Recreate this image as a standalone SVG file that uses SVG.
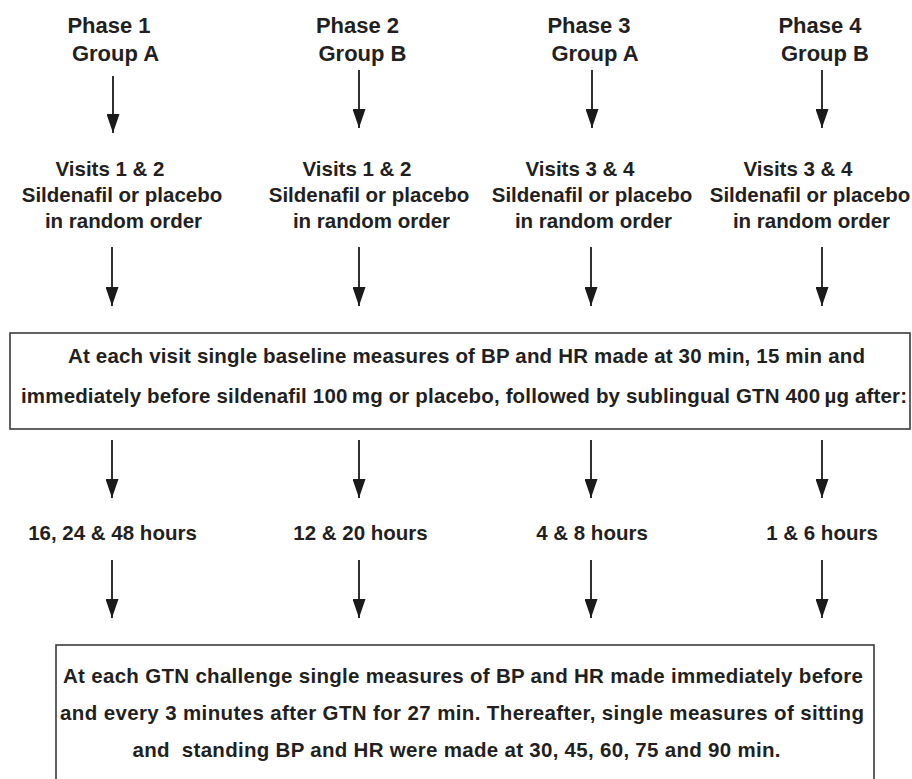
<svg xmlns="http://www.w3.org/2000/svg" width="912" height="779" viewBox="0 0 912 779">
  <defs>
    <marker id="ah" markerUnits="userSpaceOnUse" markerWidth="13" markerHeight="19" refX="6.5" refY="19" orient="0" viewBox="0 0 13 19">
      <path d="M0,0 L13,0 L6.5,19 Z" fill="#1a1a1a"/>
    </marker>
    <style>
      text { font-family: "Liberation Sans", Arial, sans-serif; font-weight: bold; fill: #231f20; }
      .title { font-size: 22px; text-anchor: middle; }
      .lab { font-size: 20.5px; text-anchor: middle; }
      .box { fill: #ffffff; stroke: #3a3a3a; stroke-width: 1.6; }
      .arr { stroke: #1a1a1a; stroke-width: 1.8; fill: none; marker-end: url(#ah); }
    </style>
  </defs>
  <rect width="912" height="779" fill="#ffffff"/>

  <g id="phase1">
    <text class="title" x="109" y="33">Phase 1</text>
    <text class="title" x="115.5" y="61">Group A</text>
  </g>
  <g id="phase2">
    <text class="title" x="357.5" y="33">Phase 2</text>
    <text class="title" x="362.5" y="61">Group B</text>
  </g>
  <g id="phase3">
    <text class="title" x="589" y="33">Phase 3</text>
    <text class="title" x="595" y="61">Group A</text>
  </g>
  <g id="phase4">
    <text class="title" x="820" y="33">Phase 4</text>
    <text class="title" x="825" y="61">Group B</text>
  </g>

  <g id="visits1">
    <text class="lab" x="110" y="176">Visits 1 &amp; 2</text>
    <text class="lab" x="122" y="202">Sildenafil or placebo</text>
    <text class="lab" x="123.5" y="228">in random order</text>
  </g>
  <g id="visits2">
    <text class="lab" x="357" y="176">Visits 1 &amp; 2</text>
    <text class="lab" x="369" y="202">Sildenafil or placebo</text>
    <text class="lab" x="371.5" y="228">in random order</text>
  </g>
  <g id="visits3">
    <text class="lab" x="580" y="176">Visits 3 &amp; 4</text>
    <text class="lab" x="592" y="202">Sildenafil or placebo</text>
    <text class="lab" x="593.5" y="228">in random order</text>
  </g>
  <g id="visits4">
    <text class="lab" x="798" y="176">Visits 3 &amp; 4</text>
    <text class="lab" x="810" y="202">Sildenafil or placebo</text>
    <text class="lab" x="811.5" y="228">in random order</text>
  </g>

  <g id="baseline-box">
    <rect class="box" x="10" y="333" width="900" height="96"/>
    <text class="lab" x="466.5" y="363" textLength="797">At each visit single baseline measures of BP and HR made at 30 min, 15 min and</text>
    <text class="lab" x="464" y="403" textLength="886">immediately before sildenafil 100&#8201;mg or placebo, followed by sublingual GTN 400&#8201;µg after:</text>
  </g>

  <g id="hours1"><text class="lab" x="112.5" y="540">16, 24 &amp; 48 hours</text></g>
  <g id="hours2"><text class="lab" x="360.5" y="540">12 &amp; 20 hours</text></g>
  <g id="hours3"><text class="lab" x="592" y="540">4 &amp; 8 hours</text></g>
  <g id="hours4"><text class="lab" x="822" y="540">1 &amp; 6 hours</text></g>

  <g id="gtn-box">
    <rect class="box" x="56" y="645" width="818" height="150"/>
    <text class="lab" x="463" y="683" textLength="800">At each GTN challenge single measures of BP and HR made immediately before</text>
    <text class="lab" x="462" y="720" textLength="804">and every 3 minutes after GTN for 27 min. Thereafter, single measures of sitting</text>
    <text class="lab" x="456.5" y="757" textLength="648">and&#160; standing BP and HR were made at 30, 45, 60, 75 and 90 min.</text>
  </g>

  <g id="connectors">
    <line class="arr" x1="113" y1="76" x2="113" y2="133"/>
    <line class="arr" x1="359" y1="70" x2="359" y2="128"/>
    <line class="arr" x1="592" y1="70" x2="592" y2="128"/>
    <line class="arr" x1="822" y1="70" x2="822" y2="128"/>

    <line class="arr" x1="112" y1="247" x2="112" y2="306"/>
    <line class="arr" x1="359" y1="247" x2="359" y2="306"/>
    <line class="arr" x1="591" y1="247" x2="591" y2="306"/>
    <line class="arr" x1="822" y1="247" x2="822" y2="306"/>

    <line class="arr" x1="112" y1="440" x2="112" y2="498"/>
    <line class="arr" x1="359" y1="440" x2="359" y2="498"/>
    <line class="arr" x1="591" y1="440" x2="591" y2="498"/>
    <line class="arr" x1="822" y1="440" x2="822" y2="498"/>

    <line class="arr" x1="112" y1="560" x2="112" y2="618"/>
    <line class="arr" x1="359" y1="560" x2="359" y2="618"/>
    <line class="arr" x1="591" y1="560" x2="591" y2="618"/>
    <line class="arr" x1="822" y1="560" x2="822" y2="618"/>
  </g>
</svg>
